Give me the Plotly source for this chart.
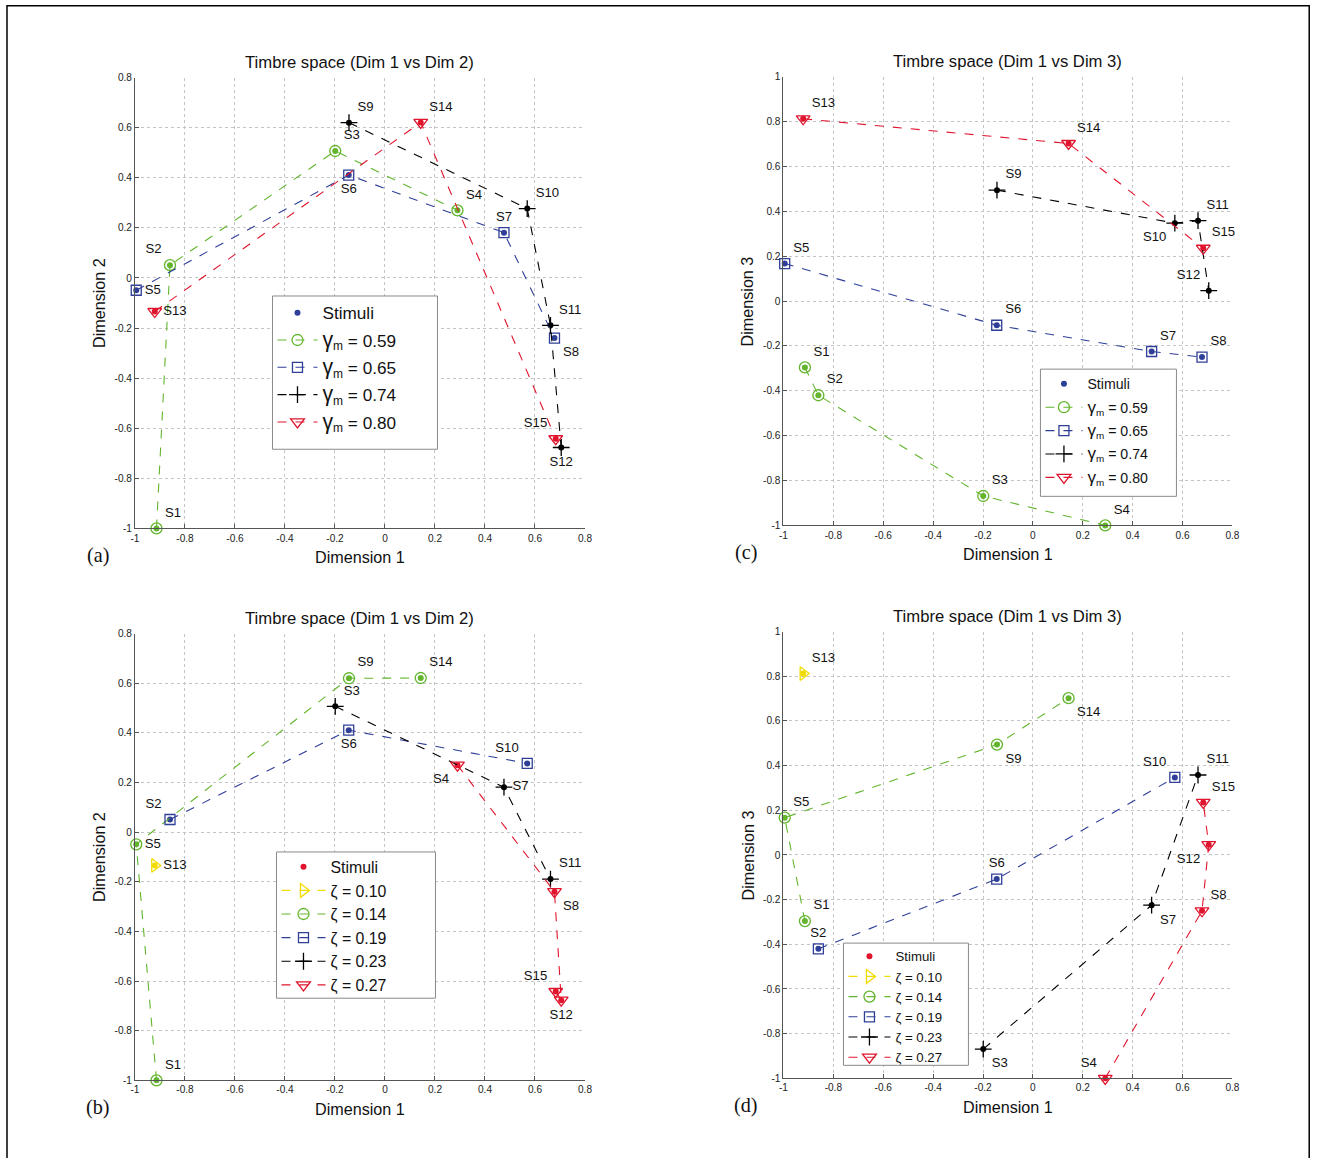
import plotly.graph_objects as go

# ---------------- data ----------------
stimuli = ["S1", "S2", "S3", "S4", "S5", "S6", "S7", "S8", "S9", "S10", "S11", "S12", "S13", "S14", "S15"]
dim1 = [-0.914, -0.860, -0.199, 0.290, -0.995, -0.145, 0.476, 0.678, -0.144, 0.569, 0.662, 0.705, -0.921, 0.143, 0.683]
dim2 = [-1.000, 0.051, 0.507, 0.270, -0.049, 0.411, 0.181, -0.240, 0.620, 0.277, -0.189, -0.677, -0.134, 0.621, -0.642]
dim3 = [-0.296, -0.420, -0.869, -1.000, 0.167, -0.108, -0.225, -0.250, 0.494, 0.347, 0.358, 0.046, 0.812, 0.702, 0.235]

gamma_values = ["0.59", "0.65", "0.74", "0.80"]
gamma_groups = [["S1", "S2", "S3", "S4"],
                ["S5", "S6", "S7", "S8"],
                ["S9", "S10", "S11", "S12"],
                ["S13", "S14", "S15"]]

zeta_values = ["0.10", "0.14", "0.19", "0.23", "0.27"]
zeta_groups = [["S13"],
               ["S1", "S5", "S9", "S14"],
               ["S2", "S6", "S10"],
               ["S3", "S7", "S11"],
               ["S4", "S8", "S12", "S15"]]

x_tickvals = [-1, -0.8, -0.6, -0.4, -0.2, 0, 0.2, 0.4, 0.6, 0.8]
x_ticktext = ["-1", "-0.8", "-0.6", "-0.4", "-0.2", "0", "0.2", "0.4", "0.6", "0.8"]
y2_tickvals = [-1, -0.8, -0.6, -0.4, -0.2, 0, 0.2, 0.4, 0.6, 0.8]
y2_ticktext = ["-1", "-0.8", "-0.6", "-0.4", "-0.2", "0", "0.2", "0.4", "0.6", "0.8"]
y3_tickvals = [-1, -0.8, -0.6, -0.4, -0.2, 0, 0.2, 0.4, 0.6, 0.8, 1]
y3_ticktext = ["-1", "-0.8", "-0.6", "-0.4", "-0.2", "0", "0.2", "0.4", "0.6", "0.8", "1"]

title_12 = "Timbre space (Dim 1 vs Dim 2)"
title_13 = "Timbre space (Dim 1 vs Dim 3)"

# ---------------- styles ----------------
W, H = 1317, 1158            # reference size; positions below are reference pixels
# the captured picture shows the page slightly scaled and offset; compensate for it
SX, OX = 0.9917, 3.5
SY, OY = 0.9888, 6.5
K = 1.01                     # matching font enlargement

GREEN = "#62b52c"
BLUE = "#2f3f98"
BLACK = "#000000"
RED = "#e0142c"
YELLOW = "#f2dc00"
FONT = "Liberation Sans, Arial, sans-serif"
SERIF = "Liberation Serif, Times New Roman, serif"

gamma_style = [
    dict(color=GREEN, symbol="circle-open", size=11),
    dict(color=BLUE, symbol="square-open", size=10),
    dict(color=BLACK, symbol="cross-thin-open", size=12),
    dict(color=RED, symbol="triangle-down-open", size=12),
]
zeta_style = [
    dict(color=YELLOW, symbol="triangle-right-open", size=12),
    dict(color=GREEN, symbol="circle-open", size=11),
    dict(color=BLUE, symbol="square-open", size=10),
    dict(color=BLACK, symbol="cross-thin-open", size=12),
    dict(color=RED, symbol="triangle-down-open", size=12),
]

pos_a = {"S1": "top right", "S2": "top left", "S3": "top right", "S4": "top right", "S5": "middle right",
         "S6": "bottom center", "S7": "top center", "S8": "bottom right", "S9": "top right", "S10": "top right",
         "S11": "top right", "S12": "bottom center", "S13": "middle right", "S14": "top right", "S15": "top left"}
pos_c = {"S1": "top right", "S2": "top right", "S3": "top right", "S4": "top right", "S5": "top right",
         "S6": "top right", "S7": "top right", "S8": "top right", "S9": "top right", "S10": "bottom left",
         "S11": "top right", "S12": "top left", "S13": "top right", "S14": "top right", "S15": "top right"}
pos_b = {"S1": "top right", "S2": "top left", "S3": "top right", "S4": "bottom left", "S5": "middle right",
         "S6": "bottom center", "S7": "middle right", "S8": "bottom right", "S9": "top right", "S10": "top left",
         "S11": "top right", "S12": "bottom center", "S13": "middle right", "S14": "top right", "S15": "top left"}
pos_d = {"S1": "top right", "S2": "top center", "S3": "bottom right", "S4": "top left", "S5": "top right",
         "S6": "top center", "S7": "bottom right", "S8": "top right", "S9": "bottom right", "S10": "top left",
         "S11": "top right", "S12": "bottom left", "S13": "top right", "S14": "bottom right", "S15": "top right"}


def px_x(x):
    return ((x - OX) / SX) / W


def px_y(y):
    return 1 - ((y - OY) / SY) / H


def fs(v):
    return round(v * K, 2)


GAMMA_A = "<span style='font-size:%spx'>γ</span><sub>m</sub> = " % fs(21)
GAMMA_C = "<span style='font-size:%spx'>γ</span><sub>m</sub> = " % fs(17)
ZETA = "ζ = "

panels = [
    dict(ax="", ydata=dim2, groups=gamma_groups, values=gamma_values, styles=gamma_style,
         prefix=GAMMA_A, first=1, pos=pos_a, xd=(134.5, 584.5), yd=(79, 529),
         leg=(272, 296), box=(272, 297, 437, 450), legfont=17, title=title_12,
         ylab="Dimension 2", letter="(a)", yt=(y2_tickvals, y2_ticktext), yr=[-1, 0.8],
         legend="legend", itemw=40, gap=2),
    dict(ax="2", ydata=dim3, groups=gamma_groups, values=gamma_values, styles=gamma_style,
         prefix=GAMMA_C, first=1, pos=pos_c, xd=(783, 1232), yd=(78, 526),
         leg=(1040, 369), box=(1040, 370, 1176, 497), legfont=14, title=title_13,
         ylab="Dimension 3", letter="(c)", yt=(y3_tickvals, y3_ticktext), yr=[-1, 1],
         legend="legend2", itemw=37, gap=2),
    dict(ax="3", ydata=dim2, groups=zeta_groups, values=zeta_values, styles=zeta_style,
         prefix=ZETA, first=4, pos=pos_b, xd=(134.5, 584.5), yd=(634, 1080),
         leg=(276, 850), box=(276, 852, 435, 998), legfont=15.7, title=title_12,
         ylab="Dimension 2", letter="(b)", yt=(y2_tickvals, y2_ticktext), yr=[-1, 0.8],
         legend="legend3", itemw=44, gap=0),
    dict(ax="4", ydata=dim3, groups=zeta_groups, values=zeta_values, styles=zeta_style,
         prefix=ZETA, first=4, pos=pos_d, xd=(783, 1232), yd=(632, 1078),
         leg=(843, 941), box=(843, 943, 968, 1065), legfont=13.1, title=title_13,
         ylab="Dimension 3", letter="(d)", yt=(y3_tickvals, y3_ticktext), yr=[-1, 1],
         legend="legend4", itemw=42, gap=0),
]

idx = {s: i for i, s in enumerate(stimuli)}

fig = go.Figure()
layout = dict(autosize=True, margin=dict(l=0, r=0, t=0, b=0),
              paper_bgcolor="white", plot_bgcolor="white",
              font=dict(family=FONT, color="#111111"), annotations=[], shapes=[])

for p in panels:
    xa = "x" + p["ax"]
    ya = "y" + p["ax"]
    ydata = p["ydata"]
    # the "Stimuli" legend dot takes the colour of the first point drawn
    order = [p["first"]] + [g for g in range(len(p["groups"])) if g != p["first"]]
    sx, sy, sc = [], [], []
    for g in order:
        for s in p["groups"][g]:
            sx.append(dim1[idx[s]])
            sy.append(ydata[idx[s]])
            sc.append(p["styles"][g]["color"])
    fig.add_trace(go.Scatter(
        x=sx, y=sy, mode="markers", name="Stimuli", xaxis=xa, yaxis=ya,
        marker=dict(color=sc, size=6, symbol="circle"), legend=p["legend"],
        legendgroup="st" + p["ax"], cliponaxis=False))
    for g, members in enumerate(p["groups"]):
        st = p["styles"][g]
        fig.add_trace(go.Scatter(
            x=[dim1[idx[s]] for s in members], y=[ydata[idx[s]] for s in members],
            mode="lines+markers", name=p["prefix"] + p["values"][g], xaxis=xa, yaxis=ya,
            line=dict(color=st["color"], width=1.1, dash="dash"),
            marker=dict(symbol=st["symbol"], size=st["size"], color=st["color"],
                        line=dict(width=1.3, color=st["color"])),
            legend=p["legend"], legendgroup="g%d%s" % (g, p["ax"]), cliponaxis=False))
    fig.add_trace(go.Scatter(
        x=dim1, y=ydata, mode="markers+text", text=stimuli, xaxis=xa, yaxis=ya,
        textposition=[p["pos"][s] for s in stimuli],
        textfont=dict(size=fs(13), family=FONT, color="#111111"),
        marker=dict(size=12, opacity=0), showlegend=False, hoverinfo="skip",
        cliponaxis=False))

    axis_common = dict(showgrid=True, gridcolor="#c4c4c4", griddash="dot", gridwidth=1,
                       showline=True, linecolor="#555555", linewidth=1, ticks="inside",
                       ticklen=4, tickcolor="#555555", zeroline=False,
                       tickfont=dict(size=fs(10), family=FONT, color="#222222"))
    layout["xaxis" + p["ax"]] = dict(
        domain=[px_x(p["xd"][0]), px_x(p["xd"][1])], range=[-1, 0.8], anchor=ya,
        tickvals=x_tickvals, ticktext=x_ticktext, **axis_common)
    layout["yaxis" + p["ax"]] = dict(
        domain=[px_y(p["yd"][1]), px_y(p["yd"][0])], range=p["yr"], anchor=xa,
        tickvals=p["yt"][0], ticktext=p["yt"][1], **axis_common)
    layout[p["legend"]] = dict(
        x=px_x(p["leg"][0]), y=px_y(p["leg"][1]), xanchor="left", yanchor="top",
        bgcolor="rgba(0,0,0,0)", borderwidth=0,
        font=dict(size=fs(p["legfont"]), family=FONT, color="#111111"),
        itemwidth=p["itemw"], traceorder="grouped", tracegroupgap=p["gap"])
    bx = p["box"]
    layout["shapes"].append(dict(type="rect", xref="paper", yref="paper", layer="above",
                                 x0=px_x(bx[0]), x1=px_x(bx[2]), y0=px_y(bx[3]), y1=px_y(bx[1]),
                                 line=dict(color="#8a8a8a", width=1), fillcolor="white"))

    cx = (p["xd"][0] + p["xd"][1]) / 2
    layout["annotations"] += [
        dict(text=p["title"], x=px_x(cx), y=px_y(p["yd"][0] - 15), xref="paper", yref="paper",
             showarrow=False, font=dict(size=fs(16.5), family=FONT, color="#111111"),
             xanchor="center", yanchor="middle"),
        dict(text="Dimension 1", x=px_x(cx), y=px_y(p["yd"][1] + 29), xref="paper", yref="paper",
             showarrow=False, font=dict(size=fs(16), family=FONT, color="#111111"),
             xanchor="center", yanchor="middle"),
        dict(text=p["ylab"], x=px_x(p["xd"][0] - 36), y=px_y((p["yd"][0] + p["yd"][1]) / 2),
             xref="paper", yref="paper", textangle=-90,
             showarrow=False, font=dict(size=fs(16), family=FONT, color="#111111"),
             xanchor="center", yanchor="middle"),
        dict(text=p["letter"], x=px_x(p["xd"][0] - 37), y=px_y(p["yd"][1] + 27),
             xref="paper", yref="paper",
             showarrow=False, font=dict(size=fs(20), family=SERIF, color="#111111"),
             xanchor="center", yanchor="middle"),
    ]

# outer frame of the figure
layout["shapes"].append(dict(type="rect", xref="paper", yref="paper",
                             x0=max(px_x(6.5), 0.0006), x1=min(px_x(1315.5), 0.9994),
                             y0=-0.02, y1=min(px_y(7), 0.9994),
                             line=dict(color="black", width=1.5), fillcolor="rgba(0,0,0,0)"))

fig.update_layout(**layout)

post = ("document.documentElement.style.margin='0';"
        "document.documentElement.style.overflow='hidden';"
        "document.body.style.margin='0';"
        "document.body.style.overflow='hidden';"
        "Plotly.Plots.resize(document.getElementById('{plot_id}'));")
fig.write_html("out.html", config={"displayModeBar": False, "responsive": True},
               default_width="100vw", default_height="100vh", post_script=post)
